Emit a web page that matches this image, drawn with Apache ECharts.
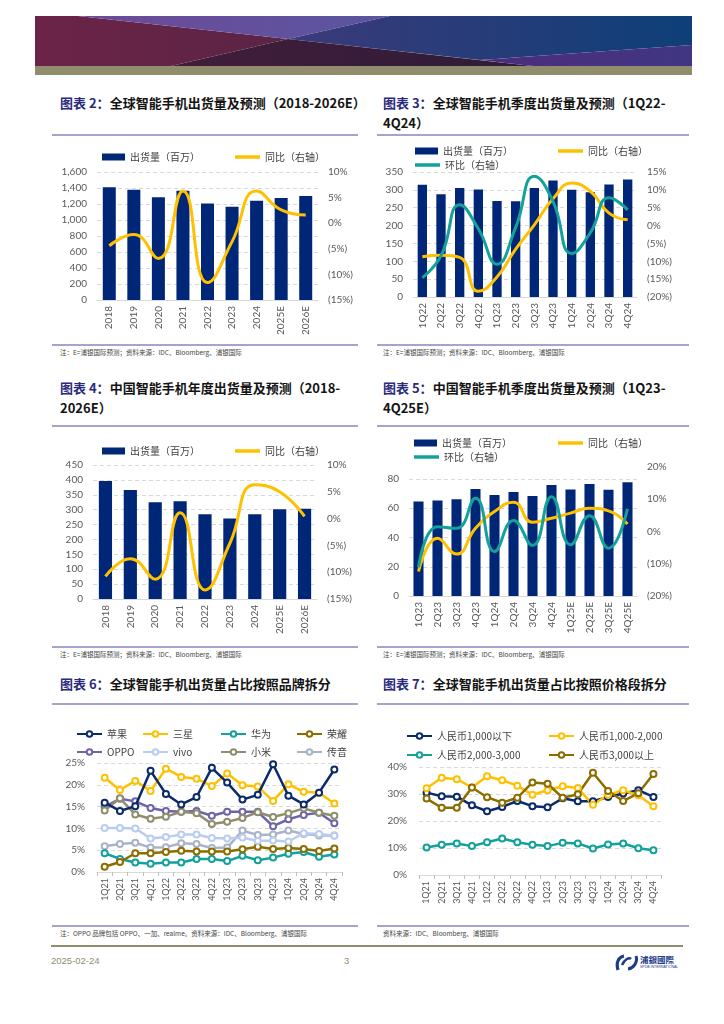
<!DOCTYPE html>
<html><head><meta charset="utf-8">
<script src="https://cdn.jsdelivr.net/npm/echarts@6/dist/echarts.min.js"></script>
<style>
html,body{margin:0;padding:0;background:#fff;}
#page{position:relative;width:724px;height:1024px;overflow:hidden;background:#fff;font-family:"Noto Sans CJK SC",sans-serif;}
.abs{position:absolute;}
.title{position:absolute;font-family:"Noto Sans CJK SC",sans-serif;font-weight:700;font-size:13px;line-height:20px;color:#141414;white-space:nowrap;}
.title .p{color:#2C2A7C;}
.sep{position:absolute;height:1.5px;background:#A7A3CC;}
.note{position:absolute;font-size:6.5px;line-height:9px;color:#444;white-space:nowrap;font-family:"Noto Sans CJK SC",sans-serif;}
.chart{position:absolute;}
</style></head>
<body><div id="page">
<svg class="abs" style="left:35px;top:16px" width="657" height="50" viewBox="0 0 657 50">
<defs>
<linearGradient id="gL" x1="0" x2="1"><stop offset="0" stop-color="#6B2447"/><stop offset="1" stop-color="#5B2445"/></linearGradient>
<linearGradient id="gT" x1="0" x2="1"><stop offset="0" stop-color="#6E4A98"/><stop offset="1" stop-color="#5A55A0"/></linearGradient>
<linearGradient id="gR" x1="0" x2="1"><stop offset="0" stop-color="#3C3A7A"/><stop offset="1" stop-color="#0E3F78"/></linearGradient>
<linearGradient id="gB" x1="0" x2="1"><stop offset="0" stop-color="#421D3A"/><stop offset="1" stop-color="#2E1C38"/></linearGradient>
<linearGradient id="gP" x1="0" x2="1"><stop offset="0" stop-color="#4E2C7C"/><stop offset="1" stop-color="#403682"/></linearGradient>
</defs>
<polygon points="0,0 43,0 253,23 136,50 0,50" fill="url(#gL)"/>
<polygon points="43,0 355,0 253,23" fill="url(#gT)"/>
<polygon points="355,0 657,0 657,29 445,44 253,23" fill="url(#gR)"/>
<polygon points="136,50 253,23 498,50" fill="url(#gB)"/>
<polygon points="445,44 657,29 657,50 498,50" fill="url(#gP)"/>
</svg>
<div class="abs" style="left:35px;top:66px;width:657px;height:9px;background:#8F8D6C;"></div>

<div class="title" style="left:60px;top:93px;"><span class="p">图表 2：</span>全球智能手机出货量及预测（2018-2026E）</div>
<div class="title" style="left:383px;top:93px;"><span class="p">图表 3：</span>全球智能手机季度出货量及预测（1Q22-<br>4Q24）</div>
<div class="sep" style="left:52px;top:134px;width:306px;"></div>
<div class="sep" style="left:377px;top:134px;width:312px;"></div>
<div id="c2" class="chart" style="left:50px;top:137px;width:310px;height:206px;"></div>
<div id="c3" class="chart" style="left:370px;top:137px;width:320px;height:206px;"></div>
<div class="sep" style="left:52px;top:344px;width:306px;"></div>
<div class="sep" style="left:377px;top:344px;width:312px;"></div>
<div class="note" style="left:60px;top:348px;">注：E=浦银国际预测；资料来源：IDC、Bloomberg、浦银国际</div>
<div class="note" style="left:383px;top:348px;">注：E=浦银国际预测；资料来源：IDC、Bloomberg、浦银国际</div>

<div class="title" style="left:60px;top:378px;"><span class="p">图表 4：</span>中国智能手机年度出货量及预测（2018-<br>2026E）</div>
<div class="title" style="left:383px;top:378px;"><span class="p">图表 5：</span>中国智能手机季度出货量及预测（1Q23-<br>4Q25E）</div>
<div class="sep" style="left:52px;top:425px;width:306px;"></div>
<div class="sep" style="left:377px;top:425px;width:312px;"></div>
<div id="c4" class="chart" style="left:50px;top:428px;width:310px;height:217px;"></div>
<div id="c5" class="chart" style="left:370px;top:428px;width:320px;height:217px;"></div>
<div class="sep" style="left:52px;top:646px;width:306px;"></div>
<div class="sep" style="left:377px;top:646px;width:312px;"></div>
<div class="note" style="left:60px;top:650px;">注：E=浦银国际预测；资料来源：IDC、Bloomberg、浦银国际</div>
<div class="note" style="left:383px;top:650px;">注：E=浦银国际预测；资料来源：IDC、Bloomberg、浦银国际</div>

<div class="title" style="left:60px;top:674px;"><span class="p">图表 6：</span>全球智能手机出货量占比按照品牌拆分</div>
<div class="title" style="left:383px;top:674px;"><span class="p">图表 7：</span>全球智能手机出货量占比按照价格段拆分</div>
<div class="sep" style="left:52px;top:703px;width:306px;"></div>
<div class="sep" style="left:377px;top:703px;width:312px;"></div>
<div id="c6" class="chart" style="left:50px;top:706px;width:310px;height:218px;"></div>
<div id="c7" class="chart" style="left:370px;top:706px;width:320px;height:218px;"></div>
<div class="sep" style="left:52px;top:925px;width:306px;"></div>
<div class="sep" style="left:377px;top:925px;width:312px;"></div>
<div class="note" style="left:60px;top:929px;">注：OPPO 品牌包括 OPPO、一加、realme。资料来源：IDC、Bloomberg、浦银国际</div>
<div class="note" style="left:383px;top:929px;">资料来源：IDC、Bloomberg、浦银国际</div>

<div class="abs" style="left:51px;top:945px;width:632px;height:1.5px;background:#8F8D6C;"></div>
<div class="abs" style="left:51px;top:955px;font-family:'Liberation Sans',sans-serif;font-size:9.5px;color:#8F8D6C;">2025-02-24</div>
<div class="abs" style="left:344px;top:955px;font-family:'Liberation Sans',sans-serif;font-size:9.5px;color:#8F8D6C;">3</div>
<svg class="abs" style="left:615px;top:954px" width="24" height="18" viewBox="0 0 24 18">
<path d="M9 2 C3 3,1 9,3 16" stroke="#1E3C8C" stroke-width="3.2" fill="none"/>
<path d="M7 11 C10 5,14 3,16 5" stroke="#1E3C8C" stroke-width="2.6" fill="none"/>
<path d="M21 2 C23 8,19 14,13 15" stroke="#1E3C8C" stroke-width="3" fill="none"/>
</svg>
<div class="abs" style="left:640px;top:954px;font-family:'Noto Sans CJK TC',sans-serif;font-weight:700;font-size:8.5px;line-height:10px;color:#1E3C8C;">浦銀國際</div>
<div class="abs" style="left:640px;top:965px;font-family:'Liberation Sans',sans-serif;font-size:3.5px;line-height:4px;color:#1E3C8C;">SPDB INTERNATIONAL</div>
</div>
<script>
// ---------- data ----------
const years = ['2018','2019','2020','2021','2022','2023','2024','2025E','2026E'];
const globalShip = [1408,1379,1283,1366,1207,1166,1241,1274,1299];
const globalYoY = [-4.4,-2.2,-6.9,6.3,-11.6,-3.6,6.3,2.6,1.6];

const quartersG = ['1Q22','2Q22','3Q22','4Q22','1Q23','2Q23','3Q23','4Q23','1Q24','2Q24','3Q24','4Q24'];
const globalQShip = [314,288,305,301,269,268,305,326,300,293,315,329];
const globalQYoY = [-8.7,-8.3,-8.9,-18.4,-14.4,-6.6,0.2,7.5,11.9,9.6,3.5,1.6];
const globalQQoQ = [-14.6,-8.5,5.8,-0.9,-10.8,-0.5,13.8,6.8,-7.8,-2.0,7.8,4.4];

const chinaShip = [396,366,325,328,285,270,285,301,303];
const chinaYoY = [-10.8,-7.5,-11.3,1.1,-13.3,-4.6,6.3,5.0,0.4];

const quartersC = ['1Q23','2Q23','3Q23','4Q23','1Q24','2Q24','3Q24','4Q24','1Q25E','2Q25E','3Q25E','4Q25E'];
const chinaQShip = [64.6,65.3,66.2,73.1,69.0,71.1,68.3,75.9,72.9,76.6,72.7,77.7];
const chinaQYoY = [-12.4,-2.1,-7.0,1.0,6.2,9.1,2.9,4.1,5.7,7.2,6.4,2.3];
const chinaQQoQ = [-11.1,1.5,1.0,10.3,-6.2,3.4,-4.3,10.8,-4.1,4.9,-5.2,7.0];

const quartersB = ['1Q21','2Q21','3Q21','4Q21','1Q22','2Q22','3Q22','4Q22','1Q23','2Q23','3Q23','4Q23','1Q24','2Q24','3Q24','4Q24'];
const brandNames = ['苹果','三星','华为','荣耀','OPPO','vivo','小米','传音'];
const apple   = [15.9,14.0,15.1,23.2,17.9,15.5,17.2,23.9,20.5,16.6,17.7,24.7,17.5,15.5,18.2,23.5];
const samsung = [21.6,18.8,20.9,18.6,23.7,21.8,21.4,19.7,22.6,19.9,19.6,16.3,20.1,18.4,18.2,15.7];
const huawei  = [4.3,3.0,2.2,1.9,2.2,2.2,3.0,3.0,2.5,3.7,2.7,3.3,4.2,4.6,3.5,4.0];
const honor   = [1.2,2.3,4.3,4.3,4.6,4.9,4.7,4.7,4.7,5.2,5.8,5.3,5.5,5.3,4.8,5.4];
const oppo    = [15.0,16.8,16.2,14.7,14.0,13.8,14.0,12.9,13.8,13.8,13.8,10.5,12.1,13.1,13.6,11.2];
const vivo    = [10.1,10.1,10.0,7.7,8.0,8.6,8.6,7.8,7.7,7.9,7.1,7.2,7.0,8.9,8.7,8.3];
const xiaomi  = [14.1,16.9,13.2,12.2,12.7,13.8,13.5,11.0,11.5,12.4,13.7,12.6,13.5,14.6,13.6,12.9];
const transsion = [5.9,6.4,6.7,5.6,5.7,6.6,6.4,5.5,5.6,9.5,8.5,8.6,9.5,8.7,8.4,8.4];

const priceNames = ['人民币1,000以下','人民币1,000-2,000','人民币2,000-3,000','人民币3,000以上'];
const priceBelow1000 = [30.5,29.2,29.0,25.8,23.6,25.2,27.4,25.5,25.1,28.4,27.3,27.3,28.9,30.2,31.4,28.9];
const price1000to2000 = [32.1,36.0,35.5,32.4,36.6,35.1,33.1,29.7,31.4,32.9,32.2,26.0,29.7,31.4,29.5,25.5];
const price2000to3000 = [10.2,11.2,11.7,10.7,12.1,13.5,12.1,11.2,10.7,11.9,11.7,9.8,11.3,11.7,9.9,9.2];
const priceAbove3000 = [28.3,24.9,24.9,32.4,28.8,26.8,28.6,34.3,33.8,28.6,29.9,37.9,31.1,27.4,30.3,37.4];

// ---------- styles ----------
const NAVY = '#002677', YEL = '#FFC000', TEAL = '#13A19B';
const AX = 'Lato, "Noto Sans", sans-serif';
const CJK = '"Noto Sans CJK SC", sans-serif';
const lblColor = '#595959';
const legText = {fontFamily: CJK, fontSize: 10, color: '#404040'};
function pct(v){ return v < 0 ? '(' + Math.abs(v) + '%)' : v + '%'; }
function barLegend(name, left, top){ return {data:[name], left:left, top:top, icon:'rect', itemWidth:23, itemHeight:7, itemGap:0, textStyle:legText, selectedMode:false}; }
function lineLegend(name, left, top){ return {data:[name], left:left, top:top, icon:'rect', itemWidth:25, itemHeight:3.5, itemGap:0, textStyle:legText, selectedMode:false}; }
function symLegend(name, left, top){ return {data:[name], left:left, top:top, itemWidth:25, itemHeight:7, itemGap:0, textStyle:legText, selectedMode:false}; }
function catAxis(data, extra){ return Object.assign({type:'category', data:data,
  axisLine:{lineStyle:{color:'#D9D9D9', width:1}}, axisTick:{show:false},
  axisLabel:{rotate:90, fontFamily:AX, fontSize:10, color:lblColor, margin:6, interval:0}}, extra||{}); }
function leftAxis(min, max, interval, fmt, extra){ return Object.assign({type:'value', min:min, max:max, interval:interval,
  axisLine:{show:false}, axisTick:{show:false},
  axisLabel:{fontFamily:AX, fontSize:10, color:lblColor, margin:10, formatter:fmt},
  splitLine:{lineStyle:{color:'#D9D9D9', type:[4,3]}}}, extra||{}); }
function rightAxis(min, max, interval, extra){ return Object.assign({type:'value', position:'right', min:min, max:max, interval:interval,
  axisLine:{show:false}, axisTick:{show:false}, splitLine:{show:false},
  axisLabel:{fontFamily:AX, fontSize:10, color:lblColor, margin:10, formatter:pct}}, extra||{}); }
function smoothLine(name, data, color, extra){ return Object.assign({type:'line', name:name, data:data, yAxisIndex:1, smooth:0.5,
  symbol:'none', lineStyle:{width:3, color:color}, itemStyle:{color:color}, z:5}, extra||{}); }
const comma = v => v.toLocaleString('en-US');

function init(id, opt){ const c = echarts.init(document.getElementById(id), null, {renderer:'canvas'}); opt.animation = false; c.setOption(opt); }

// Chart 2
init('c2', {
  legend:[barLegend('出货量（百万）',47,10), lineLegend('同比（右轴）',180,10)],
  grid:{left:47, top:35, width:221, height:128},
  xAxis:catAxis(years),
  yAxis:[leftAxis(0,1600,200,comma), rightAxis(-15,10,5)],
  series:[{type:'bar', name:'出货量（百万）', data:globalShip, barWidth:'53%', itemStyle:{color:NAVY}},
          smoothLine('同比（右轴）', globalYoY, YEL)]
});

// Chart 3
init('c3', {
  legend:[barLegend('出货量（百万）',40,4), lineLegend('同比（右轴）',183,4), lineLegend('环比（右轴）',40,18)],
  grid:{left:43, top:35, width:224, height:125},
  xAxis:catAxis(quartersG),
  yAxis:[leftAxis(0,350,50,comma), rightAxis(-20,15,5)],
  series:[{type:'bar', name:'出货量（百万）', data:globalQShip, barWidth:'50%', itemStyle:{color:NAVY}},
          smoothLine('同比（右轴）', globalQYoY, YEL),
          smoothLine('环比（右轴）', globalQQoQ, TEAL)]
});

// Chart 4
init('c4', {
  legend:[barLegend('出货量（百万）',47,13), lineLegend('同比（右轴）',180,13)],
  grid:{left:43, top:37, width:224, height:134},
  xAxis:catAxis(years),
  yAxis:[leftAxis(0,450,50,comma), rightAxis(-15,10,5)],
  series:[{type:'bar', name:'出货量（百万）', data:chinaShip, barWidth:'53%', itemStyle:{color:NAVY}},
          smoothLine('同比（右轴）', chinaYoY, YEL)]
});

// Chart 5 (two grids: bars with 0-80, lines with ±20%)
init('c5', {
  legend:[barLegend('出货量（百万）',39,5), lineLegend('同比（右轴）',183,5), lineLegend('环比（右轴）',39,19)],
  grid:[{left:39, top:51, width:228, height:117}, {left:39, top:39, width:228, height:129}],
  xAxis:[catAxis(quartersC,{gridIndex:0}), catAxis(quartersC,{gridIndex:1, show:false})],
  yAxis:[leftAxis(0,80,20,comma,{gridIndex:0}), rightAxis(-20,20,10,{gridIndex:1})],
  series:[{type:'bar', name:'出货量（百万）', data:chinaQShip, barWidth:'53%', itemStyle:{color:NAVY}},
          smoothLine('同比（右轴）', chinaQYoY, YEL, {xAxisIndex:1}),
          smoothLine('环比（右轴）', chinaQQoQ, TEAL, {xAxisIndex:1})]
});

// Chart 6
const brandData = [apple, samsung, huawei, honor, oppo, vivo, xiaomi, transsion];
const brandColors = ['#0B2A6B','#FFC000','#13A19B','#8C6D00','#6D64AA','#B9CDF0','#8E8E6E','#A9B3C8'];
const brandZ = [9,8,3,4,6,5,7,2];
const legX6 = [21,87,165,241], legY6 = [18,36];
init('c6', {
  legend: brandNames.map((n,i)=>symLegend(n, legX6[i%4], legY6[Math.floor(i/4)])),
  grid:{left:47, top:57, width:245, height:109},
  xAxis:catAxis(quartersB,{axisTick:{show:true, length:4, interval:0, lineStyle:{color:'#BFBFBF'}}, axisLabel:{rotate:90, fontFamily:AX, fontSize:9, color:lblColor, margin:6, interval:0}}),
  yAxis:leftAxis(0,25,5,v=>v+'%',{axisLabel:{fontFamily:AX, fontSize:10, color:lblColor, margin:12, formatter:v=>v+'%'}}),
  series: brandNames.map((n,i)=>({type:'line', name:n, data:brandData[i], symbol:'emptyCircle', symbolSize:6, z:brandZ[i],
    lineStyle:{width:2.5, color:brandColors[i]}, itemStyle:{color:brandColors[i], borderWidth:1.3}}))
});

// Chart 7
const priceData = [priceBelow1000, price1000to2000, price2000to3000, priceAbove3000];
const priceColors = ['#0B2A6B','#FFC000','#13A19B','#8C6D00'];
const legX7 = [31,173], legY7 = [20,39];
init('c7', {
  legend: priceNames.map((n,i)=>symLegend(n, legX7[i%2], legY7[Math.floor(i/2)])),
  grid:{left:49, top:61, width:242, height:108},
  xAxis:catAxis(quartersB,{axisTick:{show:true, length:4, interval:0, lineStyle:{color:'#BFBFBF'}}, axisLabel:{rotate:90, fontFamily:AX, fontSize:9, color:lblColor, margin:6, interval:0}}),
  yAxis:leftAxis(0,40,10,v=>v+'%',{axisLabel:{fontFamily:AX, fontSize:10, color:lblColor, margin:12, formatter:v=>v+'%'}}),
  series: priceNames.map((n,i)=>({type:'line', name:n, data:priceData[i], symbol:'emptyCircle', symbolSize:6,
    lineStyle:{width:2.5, color:priceColors[i]}, itemStyle:{color:priceColors[i], borderWidth:1.3}}))
});
</script>
</body></html>
